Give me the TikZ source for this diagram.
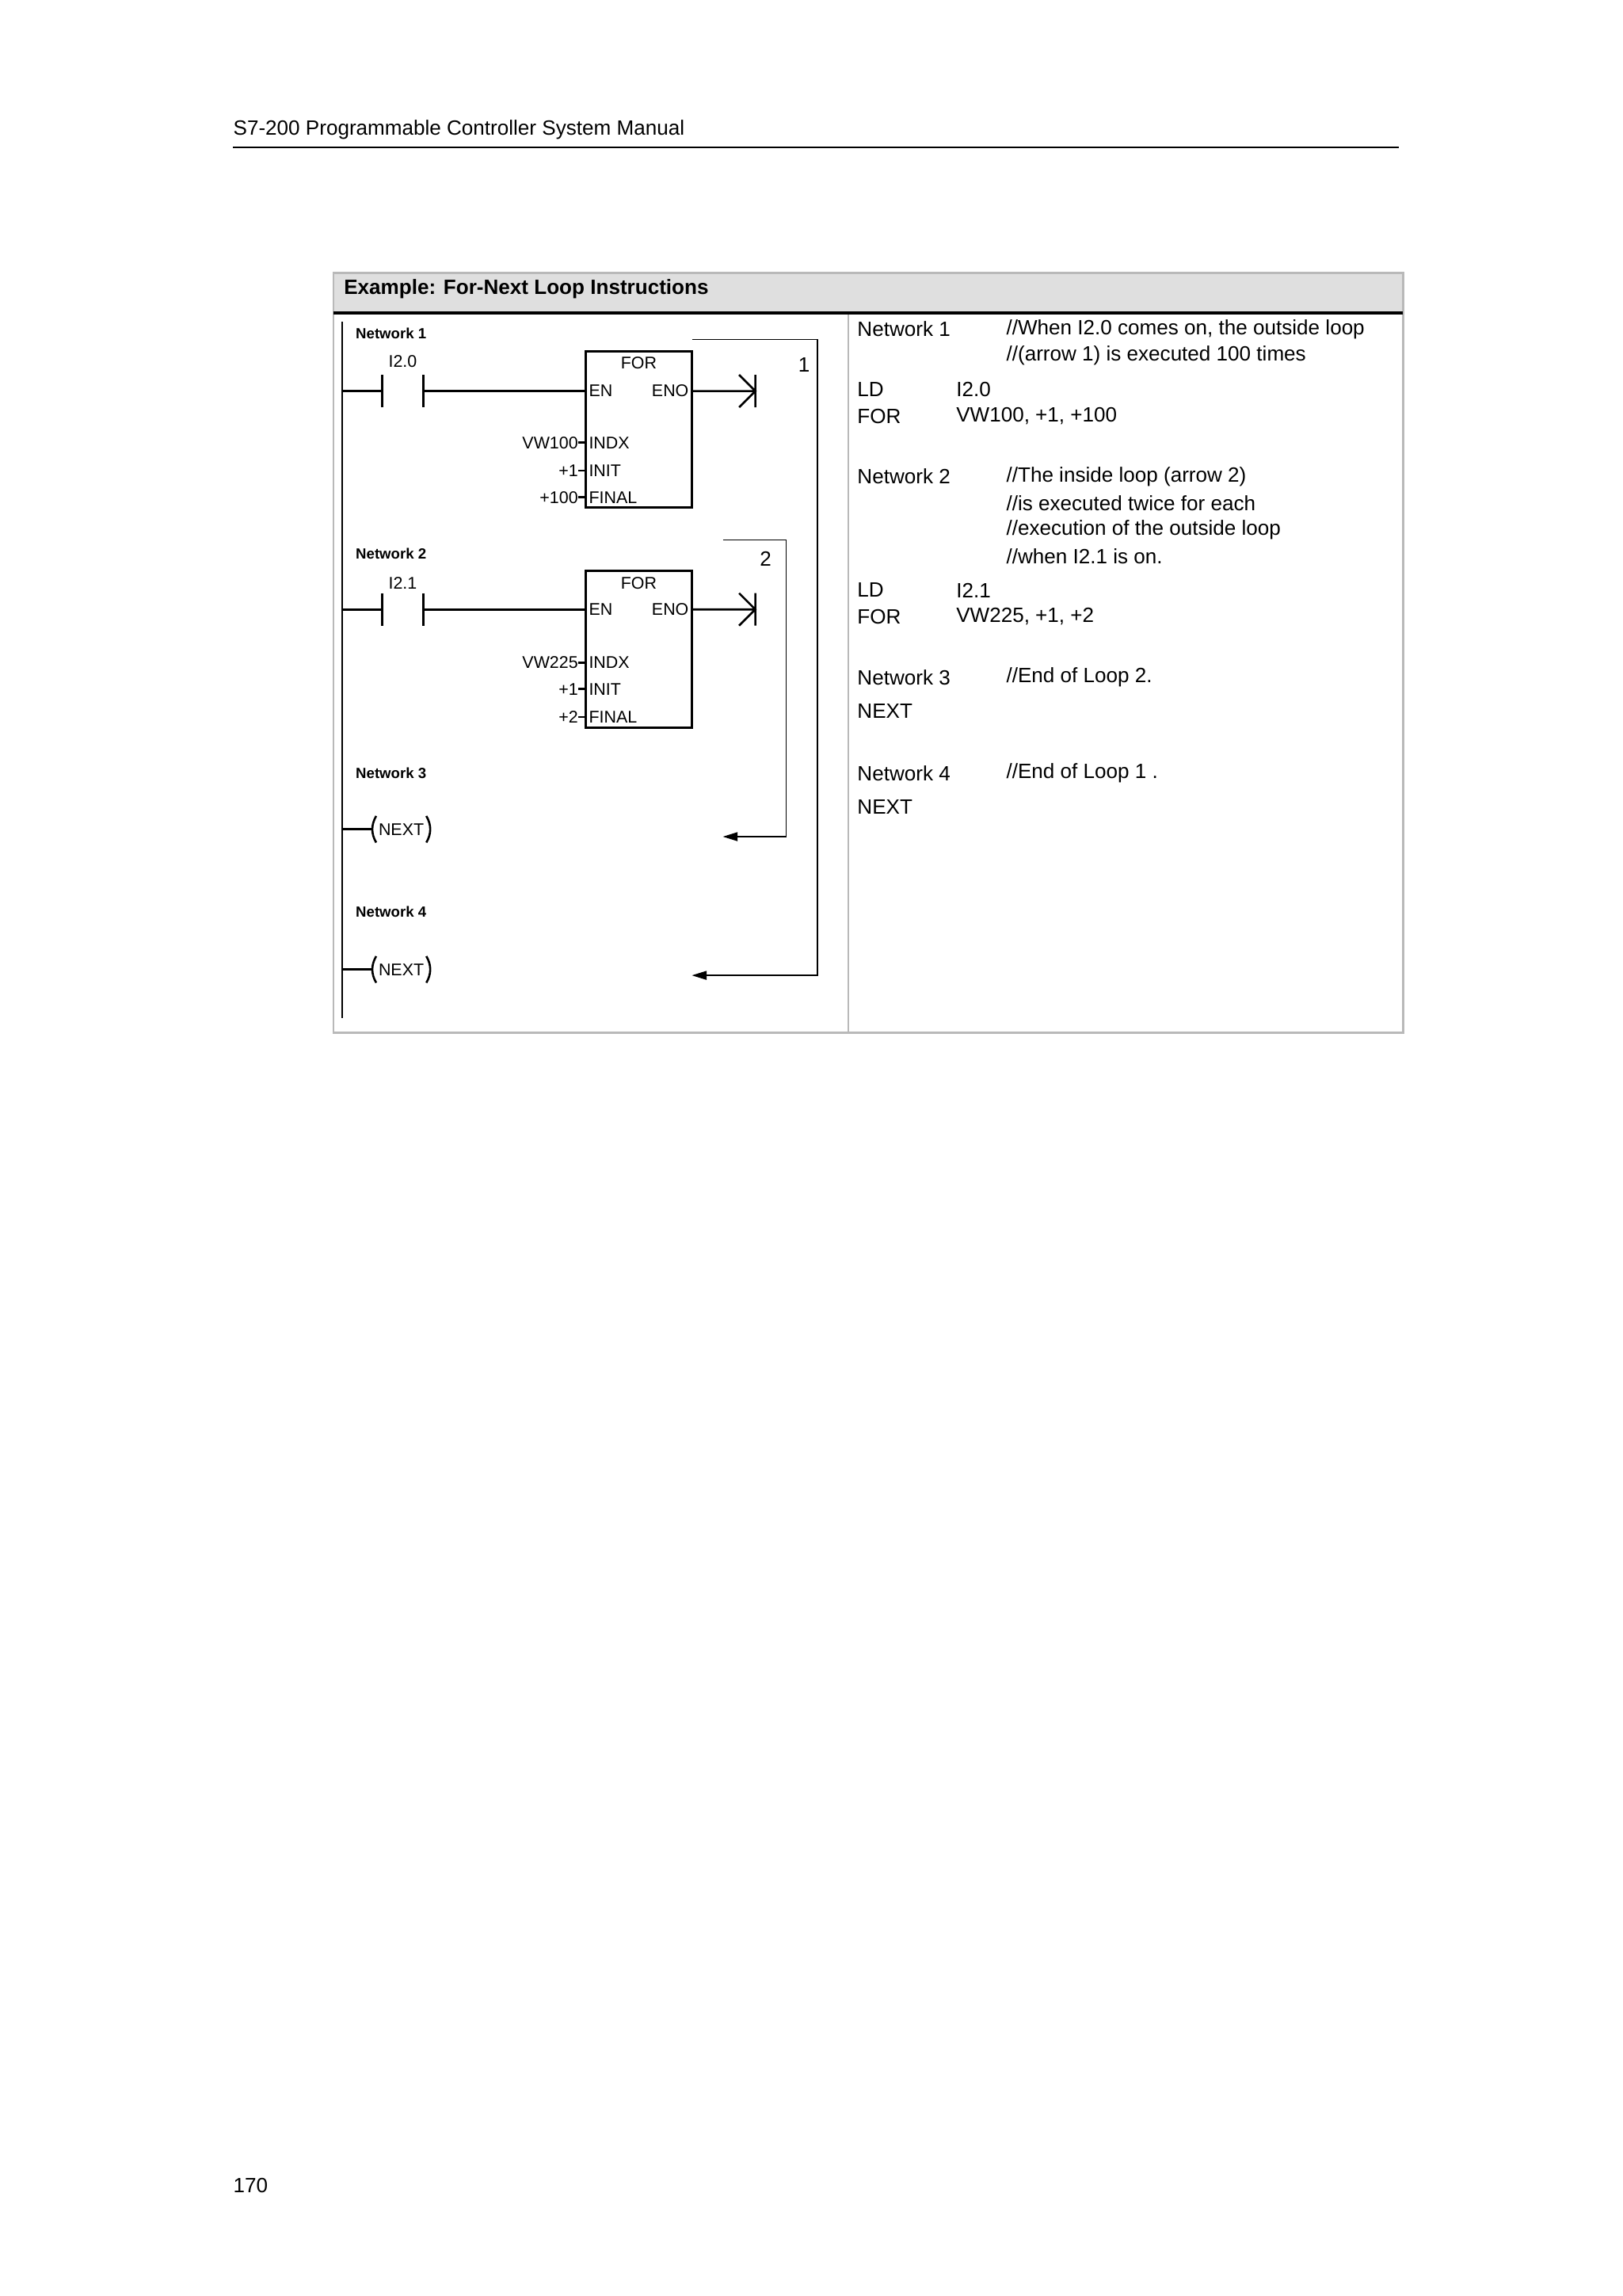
\documentclass[tikz,border=0pt]{standalone}
\usepackage{fontspec}
\setmainfont{Liberation Sans}
\usetikzlibrary{arrows.meta}
\begin{document}
\begin{tikzpicture}[x=1pt,y=-1pt,
  txt/.style={anchor=west,inner sep=0pt,font=\fontsize{14}{16}\selectfont},
  lad/.style={inner sep=0pt,font=\fontsize{11.5}{13}\selectfont},
  netl/.style={anchor=west,inner sep=0pt,font=\bfseries\fontsize{10}{12}\selectfont},
  wire/.style={line width=1.4pt},
  loop/.style={line width=0.8pt},
  tip/.style={-{Triangle[length=10pt,width=6pt]}}]
\useasboundingbox (0,0) rectangle (1100,1556);
\fill[white] (0,0) rectangle (1100,1556);
% page header
\node[txt] (hd) at (158,88) {S7-200 Programmable Controller System Manual};
\draw[line width=1pt] (158,100) -- (948,100);
\node[txt] (pg) at (158,1481) {170};
% table
\fill[gray!25] (226,185) rectangle (951,212);
\draw[gray!55,line width=1.5pt] (226,185) rectangle (951,700);
\draw[gray!55,line width=1.5pt] (575,212) -- (575,700);
\draw[line width=2pt] (226,212) -- (951,212);
\node[txt,font=\bfseries\fontsize{14}{16}\selectfont] (ttl) at (233,196) {Example: For-Next Loop Instructions};
% rail
\draw[wire] (232,218) -- (232,690);
% network 1
\node[netl] (n1) at (241,226) {Network 1};
\node[lad] (c1l) at (273,245) {I2.0};
\draw[wire] (232,265) -- (259,265) (259,254) -- (259,276) (287,254) -- (287,276) (287,265) -- (397,265);
\draw[wire] (397,238) rectangle (469,344);
\node (box1) at (433,291) {};
\node[lad] at (433,246) {FOR};
\node[lad,anchor=west] at (399,265) {EN};
\node[lad,anchor=east] at (467,265) {ENO};
\node[lad,anchor=west] at (399,300) {INDX};
\node[lad,anchor=west] at (399,319) {INIT};
\node[lad,anchor=west] at (399,337) {FINAL};
\node[lad,anchor=east] at (392,300) {VW100};
\node[lad,anchor=east] at (392,319) {+1};
\node[lad,anchor=east] at (392,337) {+100};
\draw[wire] (392,300)--(397,300) (392,319)--(397,319) (392,337)--(397,337);
\draw[wire] (469,265) -- (512,265) (512,254) -- (512,276) (501,254) -- (512,265) -- (501,276);
\coordinate (l1a) at (469,230);
\coordinate (l1b) at (469,661);
\draw[loop,tip] (l1a) -- (554,230) -- (554,661) -- (l1b);
\node[lad,font=\fontsize{14}{16}\selectfont] at (545,247) {1};
% network 2
\node[netl] (n2) at (241,375) {Network 2};
\node[lad] (c2l) at (273,395) {I2.1};
\draw[wire] (232,413) -- (259,413) (259,402) -- (259,424) (287,402) -- (287,424) (287,413) -- (397,413);
\draw[wire] (397,387) rectangle (469,493);
\node[lad] at (433,395) {FOR};
\node[lad,anchor=west] at (399,413) {EN};
\node[lad,anchor=east] at (467,413) {ENO};
\node[lad,anchor=west] at (399,449) {INDX};
\node[lad,anchor=west] at (399,467) {INIT};
\node[lad,anchor=west] at (399,486) {FINAL};
\node[lad,anchor=east] at (392,449) {VW225};
\node[lad,anchor=east] at (392,467) {+1};
\node[lad,anchor=east] at (392,486) {+2};
\draw[wire] (392,449)--(397,449) (392,467)--(397,467) (392,486)--(397,486);
\draw[wire] (469,413) -- (512,413) (512,402) -- (512,424) (501,402) -- (512,413) -- (501,424);
\coordinate (l2a) at (490,366);
\coordinate (l2b) at (490,567);
\draw[loop,tip] (l2a) -- (533,366) -- (533,567) -- (l2b);
\node[lad,font=\fontsize{14}{16}\selectfont] at (519,379) {2};
% network 3
\node[netl] (n3) at (241,524) {Network 3};
\draw[wire] (232,562) -- (252,562);
\draw[wire] (255,553) to[bend right=30] (255,571);
\node[lad] (nx1) at (272,562) {NEXT};
\draw[wire] (289,553) to[bend left=30] (289,571);
% network 4
\node[netl] (n4) at (241,618) {Network 4};
\draw[wire] (232,657) -- (252,657);
\draw[wire] (255,648) to[bend right=30] (255,666);
\node[lad] (nx2) at (272,657) {NEXT};
\draw[wire] (289,648) to[bend left=30] (289,666);
% right text
\node[txt] at (581,223) {Network 1};
\node[txt] at (682,223) {//When I2.0 comes on, the outside loop};
\node[txt] at (682,241) {//(arrow 1) is executed 100 times};
\node[txt] at (581,264) {LD};
\node[txt] at (648,264) {I2.0};
\node[txt] at (581,282) {FOR};
\node[txt] at (648,282) {VW100, +1, +100};
\node[txt] at (581,323) {Network 2};
\node[txt] at (682,323) {//The inside loop (arrow 2)};
\node[txt] at (682,341) {//is executed twice for each};
\node[txt] at (682,359) {//execution of the outside loop};
\node[txt] at (682,377) {//when I2.1 is on.};
\node[txt] at (581,400) {LD};
\node[txt] at (648,400) {I2.1};
\node[txt] at (581,418) {FOR};
\node[txt] at (648,418) {VW225, +1, +2};
\node[txt] at (581,459) {Network 3};
\node[txt] at (682,459) {//End of Loop 2.};
\node[txt] at (581,482) {NEXT};
\node[txt] at (581,524) {Network 4};
\node[txt] at (682,524) {//End of Loop 1 .};
\node[txt] at (581,547) {NEXT};
\end{tikzpicture}
\end{document}
